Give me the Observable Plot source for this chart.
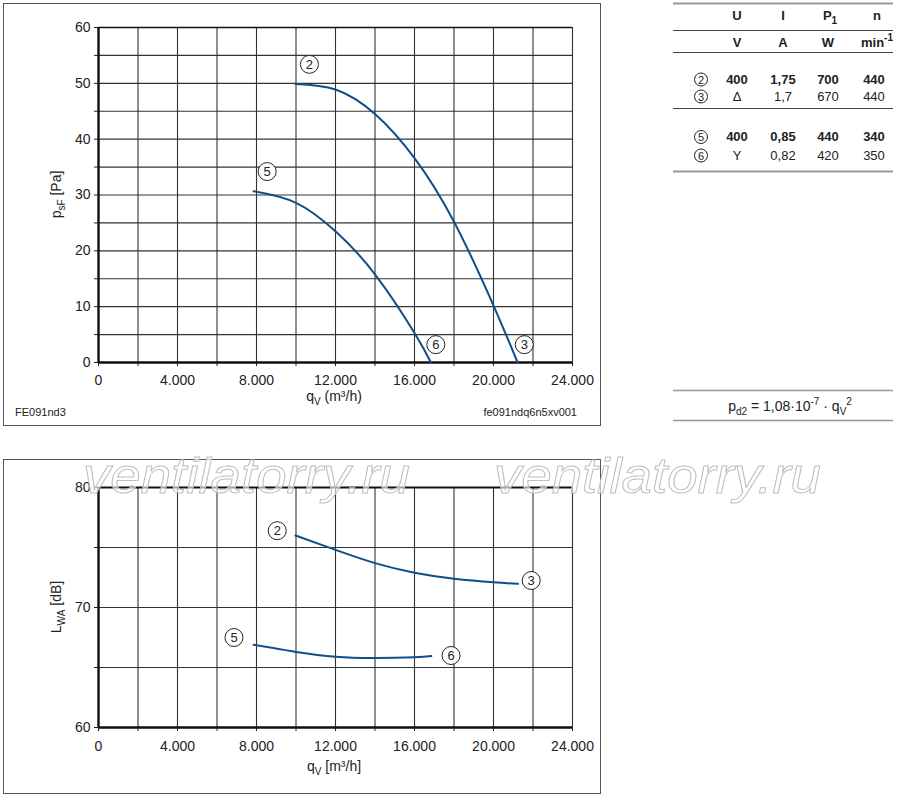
<!DOCTYPE html>
<html><head><meta charset="utf-8">
<script src="https://cdn.jsdelivr.net/npm/d3@7"></script>
<script src="https://cdn.jsdelivr.net/npm/@observablehq/plot@0.6"></script>
<style>
body{margin:0;background:#fff;}
#page{position:relative;width:900px;height:797px;overflow:hidden;background:#fff;font-family:"Liberation Sans",Arial,sans-serif;}
#page svg{position:absolute;left:0;}
.frame{position:absolute;border:1.5px solid #555;box-sizing:border-box;}
</style></head><body><div id="page"></div>
<script>
// ---------- data ----------
const qTicks = [0, 4000, 8000, 12000, 16000, 20000, 24000];
const qGrid = [0, 2000, 4000, 6000, 8000, 10000, 12000, 14000, 16000, 18000, 20000, 22000, 24000];
const psTicks = [0, 10, 20, 30, 40, 50, 60];
const psGrid = [0, 5, 10, 15, 20, 25, 30, 35, 40, 45, 50, 55, 60];
const lwTicks = [60, 70, 80];
const lwGrid = [60, 65, 70, 75, 80];

// pressure curves (q in m3/h, psF in Pa)
const ps2Q = [9970, 12000, 14000, 16000, 18000, 20000, 21220];
const ps2P = [49.9, 48.9, 44.5, 36.6, 25.2, 10.2, 0];
const ps5Q = [7850, 10000, 12000, 14000, 16000, 16830];
const ps5P = [30.68, 28.6, 23.5, 15.8, 5.3, 0];

// sound power curves (q in m3/h, LWA in dB)
const lw2Q = [9970, 12000, 14000, 16000, 18000, 20000, 21240];
const lw2L = [76.0, 74.8, 73.7, 72.9, 72.4, 72.1, 71.97];
const lw5Q = [7850, 10000, 12000, 14000, 16000, 16850];
const lw5L = [66.9, 66.3, 65.9, 65.8, 65.86, 65.95];

// circled curve labels
const topLabelIds = ["2", "5", "6", "3"];
const topLabelQ = [10680, 8540, 17080, 21560];
const topLabelP = [53.4, 34.2, 3.2, 3.2];
const botLabelIds = ["2", "3", "5", "6"];
const botLabelQ = [9050, 21910, 6860, 17850];
const botLabelL = [76.4, 72.25, 67.5, 66.0];

// operating data table
const rowIds = ["2", "3", "5", "6"];
const rowU = ["400", "Δ", "400", "Y"];
const rowI = ["1,75", "1,7", "0,85", "0,82"];
const rowP = ["700", "670", "440", "420"];
const rowN = ["440", "440", "340", "350"];
const rowBold = [true, false, true, false];

// ---------- helpers ----------
const FONT = '"Liberation Sans", Arial, sans-serif';
const BLUE = "#0d4f8c";
const GRID = "#333";
const fmtQ = d => d === 0 ? "0" : d3.format(",")(d).replace(/,/g, ".");
const zipCurve = (id, qs, vs) => qs.map((q, i) => ({id, q, v: vs[i]}));
const zipLabels = (ids, qs, vs) => ids.map((id, i) => ({id, q: qs[i], v: vs[i]}));

const page = document.getElementById("page");

function chart({height, top, marginTop, marginBottom, yDomain, yTicks, yGrid, curves, labels, topThick, xPad}) {
  const svg = Plot.plot({
    width: 600, height,
    marginLeft: 98, marginRight: 28, marginTop, marginBottom,
    x: {domain: [0, 24000]},
    y: {domain: yDomain},
    style: {fontFamily: FONT, fontSize: "14px", color: "#222", background: "transparent"},
    marks: [
      Plot.ruleX(qGrid, {stroke: GRID, strokeWidth: 1.1}),
      Plot.ruleY(yGrid, {stroke: GRID, strokeWidth: 1.1}),
      Plot.axisX({ticks: qGrid, tickSize: 4, tickFormat: () => "", label: null, stroke: "#222"}),
      Plot.axisX({ticks: qTicks, tickSize: 0, tickPadding: xPad, tickFormat: fmtQ, label: null, fill: "#222", fontSize: 14}),
      Plot.axisY({ticks: yGrid, tickSize: 4, tickFormat: () => "", label: null, stroke: "#222"}),
      Plot.axisY({ticks: yTicks, tickSize: 0, tickPadding: 8, tickFormat: d => String(d), label: null, fill: "#222", fontSize: 14}),
      Plot.ruleY([yDomain[1]], {stroke: "#111", strokeWidth: topThick}),
      Plot.ruleX([0], {stroke: "#111", strokeWidth: 2.4}),
      Plot.ruleY([yDomain[0]], {stroke: "#111", strokeWidth: 2.4}),
      Plot.line(curves, {x: "q", y: "v", z: "id", stroke: BLUE, strokeWidth: 2, curve: "natural"}),
      Plot.dot(labels, {x: "q", y: "v", r: 9, stroke: "#222", strokeWidth: 1, fill: "white"}),
      Plot.text(labels, {x: "q", y: "v", text: "id", fontSize: 13, fill: "#222", dy: 0.5})
    ]
  });
  svg.style.top = top + "px";
  page.appendChild(svg);
  return d3.select(svg);
}

function subLabel(g, parts) {
  // parts: [text, kind] kind: "n" normal, "sub", "sup"
  let shift = 0;
  parts.forEach(([t, k]) => {
    const target = k === "sub" ? 4 : k === "sup" ? -6 : 0;
    g.append("tspan").attr("dy", target - shift).attr("font-size", k === "n" ? null : 10).text(t);
    shift = target;
  });
}

// ---------- top chart ----------
const topCurves = [...zipCurve("2", ps2Q, ps2P), ...zipCurve("5", ps5Q, ps5P)];
const s1 = chart({
  height: 430, top: 0, marginTop: 27, marginBottom: 68,
  yDomain: [0, 60], yTicks: psTicks, yGrid: psGrid,
  curves: topCurves, labels: zipLabels(topLabelIds, topLabelQ, topLabelP), topThick: 1.5, xPad: 13
});
subLabel(s1.append("text").attr("transform", "translate(61,194.5) rotate(-90)").attr("text-anchor", "middle")
  .attr("font-family", FONT).attr("font-size", 14).attr("fill", "#222"),
  [["p", "n"], ["sF", "sub"], [" [Pa]", "n"]]);
subLabel(s1.append("text").attr("x", 334).attr("y", 401).attr("text-anchor", "middle")
  .attr("font-family", FONT).attr("font-size", 14).attr("fill", "#222"),
  [["q", "n"], ["V", "sub"], [" (m³/h)", "n"]]);
s1.append("text").attr("x", 15).attr("y", 415.5).attr("text-anchor", "start").attr("font-family", FONT).attr("font-size", 11).attr("fill", "#222").text("FE091nd3");
s1.append("text").attr("x", 577).attr("y", 415.5).attr("text-anchor", "end").attr("font-family", FONT).attr("font-size", 11).attr("fill", "#222").text("fe091ndq6n5xv001");

// ---------- bottom chart ----------
const botCurves = [...zipCurve("2", lw2Q, lw2L), ...zipCurve("5", lw5Q, lw5L)];
const s2 = chart({
  height: 367, top: 430, marginTop: 57, marginBottom: 70,
  yDomain: [60, 80], yTicks: lwTicks, yGrid: lwGrid,
  curves: botCurves, labels: zipLabels(botLabelIds, botLabelQ, botLabelL), topThick: 2.2, xPad: 13.5
});
subLabel(s2.append("text").attr("transform", "translate(61,177) rotate(-90)").attr("text-anchor", "middle")
  .attr("font-family", FONT).attr("font-size", 14).attr("fill", "#222"),
  [["L", "n"], ["WA", "sub"], [" [dB]", "n"]]);
subLabel(s2.append("text").attr("x", 334).attr("y", 341).attr("text-anchor", "middle")
  .attr("font-family", FONT).attr("font-size", 14).attr("fill", "#222"),
  [["q", "n"], ["V", "sub"], [" [m³/h]", "n"]]);

// ---------- frames ----------
[[3, 2.5, 597.5, 423.5], [3, 459, 597.5, 334.5]].forEach(([l, t, w, h]) => {
  const d = document.createElement("div");
  d.className = "frame";
  Object.assign(d.style, {left: l + "px", top: t + "px", width: w + "px", height: h + "px"});
  page.appendChild(d);
});

// ---------- overlay: table, formula, watermark ----------
const ov = d3.select(page).append("svg").attr("width", 900).attr("height", 797)
  .style("top", "0px").style("pointer-events", "none")
  .attr("font-family", FONT).attr("fill", "#222");

const hline = (y, color, w) => ov.append("line").attr("x1", 673).attr("x2", 893).attr("y1", y).attr("y2", y)
  .attr("stroke", color).attr("stroke-width", w);
hline(3.5, "#999", 2); hline(30.5, "#444", 1); hline(52.5, "#444", 1); hline(108.5, "#444", 1); hline(171.5, "#999", 2);
hline(390.5, "#999", 1.5); hline(420.5, "#999", 1.5);

const colX = [737, 783, 828, 874];
// header
const hdr = ov.append("g").attr("font-weight", "bold").attr("font-size", 13).attr("text-anchor", "middle");
hdr.append("text").attr("x", colX[0]).attr("y", 19.5).text("U");
hdr.append("text").attr("x", colX[1]).attr("y", 19.5).text("I");
subLabel(hdr.append("text").attr("x", 830).attr("y", 19.5), [["P", "n"], ["1", "sub"]]);
hdr.append("text").attr("x", 877).attr("y", 19.5).text("n");
hdr.append("text").attr("x", colX[0]).attr("y", 46.5).text("V");
hdr.append("text").attr("x", colX[1]).attr("y", 46.5).text("A");
hdr.append("text").attr("x", colX[2]).attr("y", 46.5).text("W");
subLabel(hdr.append("text").attr("x", 877).attr("y", 46.5), [["min", "n"], ["-1", "sup"]]);

const rowY = [83.5, 100.5, 141, 159.5];
rowIds.forEach((id, i) => {
  const y = rowY[i];
  ov.append("circle").attr("cx", 701).attr("cy", y - 4).attr("r", 6.5).attr("fill", "white").attr("stroke", "#222").attr("stroke-width", 1);
  ov.append("text").attr("x", 701).attr("y", y).attr("text-anchor", "middle").attr("font-size", 11).text(id);
  const g = ov.append("g").attr("font-size", 13).attr("text-anchor", "middle").attr("font-weight", rowBold[i] ? "bold" : null);
  [rowU[i], rowI[i], rowP[i], rowN[i]].forEach((t, j) => g.append("text").attr("x", colX[j]).attr("y", y).text(t));
});

// formula
subLabel(ov.append("text").attr("x", 790).attr("y", 410.5).attr("text-anchor", "middle").attr("font-size", 14),
  [["p", "n"], ["d2", "sub"], [" = 1,08·10", "n"], ["-7", "sup"], [" · q", "n"], ["V", "sub"], ["2", "sup"]]);

// watermark
[83, 494].forEach(x => {
  ov.append("text").attr("x", x).attr("y", 493).attr("font-size", 50).attr("font-style", "italic")
    .attr("textLength", 327).attr("lengthAdjust", "spacingAndGlyphs")
    .attr("fill", "white").attr("fill-opacity", 0.6).attr("stroke", "#bfbfbf").attr("stroke-width", 1)
    .text("ventilatorry.ru");
});
</script></body></html>
